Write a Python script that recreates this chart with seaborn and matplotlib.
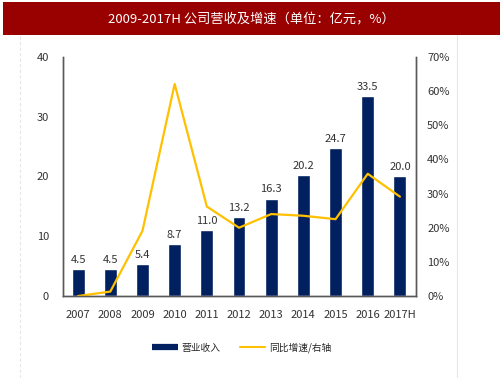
import numpy as np
import pandas as pd
import matplotlib
matplotlib.use('Agg')
import matplotlib.pyplot as plt
import seaborn as sns
from matplotlib.patches import Rectangle
from matplotlib.lines import Line2D

# data
years = ['2007', '2008', '2009', '2010', '2011', '2012', '2013', '2014', '2015', '2016', '2017H']
revenue = [4.5, 4.5, 5.4, 8.7, 11.0, 13.2, 16.3, 20.2, 24.7, 33.5, 20.0]
growth = [0.0, 1.3, 19.1, 62.1, 26.2, 20.0, 24.0, 23.5, 22.5, 35.8, 29.1]

df = pd.DataFrame({'year': years, 'revenue': revenue, 'growth': growth})
df['pos'] = np.arange(len(df))

sns.set_theme(style='white')
plt.rcParams['font.family'] = ['Noto Sans CJK SC', 'DejaVu Sans']

navy = '#002060'
gold = '#FFC000'
grey = '#595959'

fig = plt.figure(figsize=(5.03, 3.78), dpi=100)
fig.patch.set_facecolor('white')

# title banner
fig.patches.append(Rectangle((3 / 503, 1 - 35 / 378), 497 / 503, 33 / 378,
                             transform=fig.transFigure, facecolor='#990000',
                             edgecolor='none', zorder=0))
fig.text(0.5, 1 - 18.5 / 378, '2009-2017H 公司营收及增速（单位：亿元，%）',
         ha='center', va='center', color='white', fontsize=9.5)

# faint frame lines
fig.add_artist(Line2D([20 / 503, 20 / 503], [0, 1 - 35 / 378], transform=fig.transFigure,
                      color='#e6e6e6', lw=0.8, ls=(0, (3, 2))))
fig.add_artist(Line2D([457 / 503, 457 / 503], [0, 1 - 35 / 378], transform=fig.transFigure,
                      color='#e6e6e6', lw=0.8))

ax = fig.add_axes([63 / 503, 1 - 296 / 378, (416 - 63) / 503, (296 - 57) / 378])
sns.barplot(data=df, x='year', y='revenue', color=navy, width=0.4,
            saturation=1, ax=ax)
ax.bar_label(ax.containers[0], fmt='%.1f', padding=3, fontsize=8, color='#333333')
ax.set_ylim(0, 40)
ax.set_yticks([0, 10, 20, 30, 40])
ax.set_xlim(-0.47, 10.5)
ax.set_xlabel('')
ax.set_ylabel('')

ax2 = ax.twinx()
sns.lineplot(data=df, x='pos', y='growth', color=gold, linewidth=1.6, ax=ax2)
ax2.set_ylim(0, 70)
ax2.set_yticks(range(0, 71, 10))
ax2.set_yticklabels([f'{v}%' for v in range(0, 71, 10)])
ax2.set_xlim(-0.47, 10.5)
ax2.set_ylabel('')
ax2.set_xlabel('')

for a in (ax, ax2):
    a.spines['top'].set_visible(False)
    for s in ('left', 'right', 'bottom'):
        a.spines[s].set_color(grey)
        a.spines[s].set_linewidth(1.0)
    a.tick_params(axis='both', length=0, labelsize=8, colors='#333333')
ax.tick_params(axis='x', pad=10)
ax.tick_params(axis='y', pad=10)
ax2.tick_params(axis='y', pad=8)

# legend
handles = [Line2D([0], [0], color=navy, lw=4.5, solid_capstyle='butt'),
           Line2D([0], [0], color=gold, lw=1.5)]
fig.legend(handles, ['营业收入', '同比增速/右轴'], loc='center',
           bbox_to_anchor=(242 / 503, 1 - 348 / 378), ncol=2, frameon=False,
           fontsize=7, handlelength=2.6, columnspacing=2.0, handletextpad=0.4)

fig.savefig('out.png', dpi=100, facecolor='white')
